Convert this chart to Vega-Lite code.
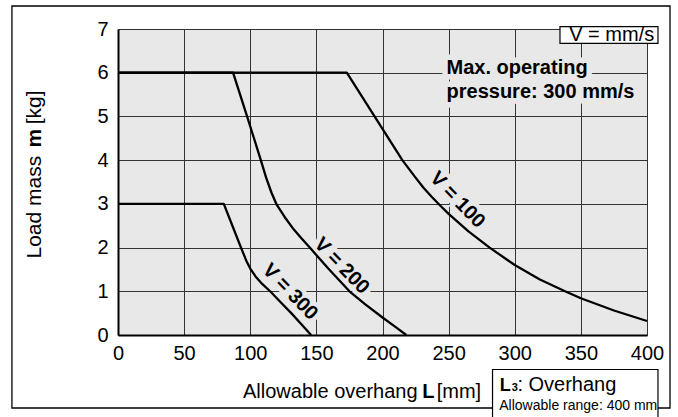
{
  "$schema": "https://vega.github.io/schema/vega-lite/v6.json",
  "width": 529,
  "height": 306,
  "autosize": "none",
  "padding": {"left": 118, "top": 29, "right": 31, "bottom": 82},
  "background": "white",
  "config": {
    "font": "Liberation Sans",
    "view": {"fill": "#e8e8e8", "stroke": null},
    "axis": {"grid": true, "gridColor": "#333333", "gridWidth": 1, "ticks": false, "tickSize": 0, "domainColor": "black", "domainWidth": 2,
      "labelFontSize": 20, "labelColor": "black", "labelFlush": false, "labelOverlap": false, "labelFont": "Liberation Sans"},
    "axisX": {"labelPadding": 8},
    "axisY": {"labelPadding": 10}
  },
  "datasets": {
    "curves": [
      {"V": "100", "L": 0, "m": 6}, {"V": "100", "L": 173, "m": 6}, {"V": "100", "L": 194, "m": 5}, {"V": "100", "L": 215, "m": 4},
      {"V": "100", "L": 225, "m": 3.6}, {"V": "100", "L": 231, "m": 3.37}, {"V": "100", "L": 237, "m": 3.17}, {"V": "100", "L": 243, "m": 2.98},
      {"V": "100", "L": 250, "m": 2.77}, {"V": "100", "L": 265, "m": 2.37}, {"V": "100", "L": 281, "m": 2}, {"V": "100", "L": 300, "m": 1.6},
      {"V": "100", "L": 319, "m": 1.27}, {"V": "100", "L": 338, "m": 1}, {"V": "100", "L": 350, "m": 0.84}, {"V": "100", "L": 375, "m": 0.56},
      {"V": "100", "L": 400, "m": 0.32},
      {"V": "200", "L": 0, "m": 6}, {"V": "200", "L": 87, "m": 6}, {"V": "200", "L": 97.6, "m": 5}, {"V": "200", "L": 108, "m": 4},
      {"V": "200", "L": 112, "m": 3.6}, {"V": "200", "L": 116, "m": 3.26}, {"V": "200", "L": 120, "m": 2.98}, {"V": "200", "L": 126, "m": 2.7},
      {"V": "200", "L": 132, "m": 2.45}, {"V": "200", "L": 138.5, "m": 2.22}, {"V": "200", "L": 145, "m": 2}, {"V": "200", "L": 159, "m": 1.52},
      {"V": "200", "L": 175, "m": 1}, {"V": "200", "L": 187, "m": 0.7}, {"V": "200", "L": 200, "m": 0.4}, {"V": "200", "L": 210, "m": 0.18},
      {"V": "200", "L": 218, "m": 0},
      {"V": "300", "L": 0, "m": 3}, {"V": "300", "L": 80, "m": 3}, {"V": "300", "L": 86.5, "m": 2.5}, {"V": "300", "L": 93, "m": 2},
      {"V": "300", "L": 97, "m": 1.7}, {"V": "300", "L": 100, "m": 1.52}, {"V": "300", "L": 104, "m": 1.34}, {"V": "300", "L": 108, "m": 1.2},
      {"V": "300", "L": 115, "m": 1}, {"V": "300", "L": 123, "m": 0.75}, {"V": "300", "L": 131, "m": 0.5}, {"V": "300", "L": 138.5, "m": 0.25},
      {"V": "300", "L": 146, "m": 0}
    ],
    "speedLabels": [
      {"text": "V = 300", "L": 130.1, "m": 0.99},
      {"text": "V = 200", "L": 169.1, "m": 1.58},
      {"text": "V = 100", "L": 256.6, "m": 3.09}
    ],
    "note": [
      {"text": "Max. operating", "L": 248.4, "m": 6.1},
      {"text": "pressure: 300 mm/s", "L": 248.4, "m": 5.566}
    ]
  },
  "layer": [
    {
      "data": {"values": [{"x1": -80.2, "x2": 417.4, "y1": 7.526, "y2": -1.67}]},
      "mark": {"type": "rect", "fill": "transparent", "stroke": "black", "strokeWidth": 1.3},
      "encoding": {
        "x": {"field": "x1", "type": "quantitative", "title": null, "scale": {"domain": [0, 400], "nice": false, "zero": false}},
        "x2": {"field": "x2"},
        "y": {"field": "y1", "type": "quantitative", "title": null, "scale": {"domain": [0, 7], "nice": false, "zero": false}},
        "y2": {"field": "y2"}
      }
    },
    {
      "data": {"name": "speedLabels"},
      "mark": {"type": "text", "fontSize": 20, "fontWeight": "bold", "angle": 46, "align": "center", "baseline": "middle", "fill": "#e8e8e8", "stroke": "#e8e8e8", "strokeWidth": 9},
      "encoding": {
        "x": {"field": "L", "type": "quantitative", "title": null, "scale": {"domain": [0, 400], "nice": false, "zero": false}},
        "y": {"field": "m", "type": "quantitative", "title": null, "scale": {"domain": [0, 7], "nice": false, "zero": false}},
        "text": {"field": "text"}
      }
    },
    {
      "data": {"name": "note"},
      "mark": {"type": "text", "fontSize": 20, "fontWeight": "bold", "align": "left", "baseline": "middle", "fill": "#e8e8e8", "stroke": "#e8e8e8", "strokeWidth": 11},
      "encoding": {
        "x": {"field": "L", "type": "quantitative", "title": null, "scale": {"domain": [0, 400], "nice": false, "zero": false}},
        "y": {"field": "m", "type": "quantitative", "title": null, "scale": {"domain": [0, 7], "nice": false, "zero": false}},
        "text": {"field": "text"}
      }
    },
    {
      "data": {"name": "curves"},
      "mark": {"type": "line", "color": "black", "strokeWidth": 2.3, "strokeJoin": "round"},
      "encoding": {
        "x": {"field": "L", "type": "quantitative", "title": null, "scale": {"domain": [0, 400], "nice": false, "zero": false},
          "axis": {"values": [0, 50, 100, 150, 200, 250, 300, 350, 400], "title": null}},
        "y": {"field": "m", "type": "quantitative", "title": null, "scale": {"domain": [0, 7], "nice": false, "zero": false},
          "axis": {"values": [0, 1, 2, 3, 4, 5, 6, 7], "title": null}},
        "detail": {"field": "V", "type": "nominal"}
      }
    },
    {
      "data": {"name": "speedLabels"},
      "mark": {"type": "text", "fontSize": 20, "fontWeight": "bold", "angle": 46, "align": "center", "baseline": "middle", "fill": "black"},
      "encoding": {
        "x": {"field": "L", "type": "quantitative", "title": null, "scale": {"domain": [0, 400], "nice": false, "zero": false}},
        "y": {"field": "m", "type": "quantitative", "title": null, "scale": {"domain": [0, 7], "nice": false, "zero": false}},
        "text": {"field": "text"}
      }
    },
    {
      "data": {"name": "note"},
      "mark": {"type": "text", "fontSize": 20, "fontWeight": "bold", "align": "left", "baseline": "middle", "fill": "black"},
      "encoding": {
        "x": {"field": "L", "type": "quantitative", "title": null, "scale": {"domain": [0, 400], "nice": false, "zero": false}},
        "y": {"field": "m", "type": "quantitative", "title": null, "scale": {"domain": [0, 7], "nice": false, "zero": false}},
        "text": {"field": "text"}
      }
    },
    {
      "data": {"values": [{"x1": 334.2, "x2": 408.3, "y1": 7.053, "y2": 6.673}, {"x1": 283.2, "x2": 408.3, "y1": -0.789, "y2": -1.944}]},
      "mark": {"type": "rect", "fill": "white", "stroke": "black", "strokeWidth": 1.2},
      "encoding": {
        "x": {"field": "x1", "type": "quantitative", "title": null, "scale": {"domain": [0, 400], "nice": false, "zero": false}},
        "x2": {"field": "x2"},
        "y": {"field": "y1", "type": "quantitative", "title": null, "scale": {"domain": [0, 7], "nice": false, "zero": false}},
        "y2": {"field": "y2"}
      }
    },
    {
      "data": {"values": [{"text": "V = mm/s", "L": 373.3, "m": 6.874}]},
      "mark": {"type": "text", "fontSize": 20, "align": "center", "baseline": "middle", "fill": "black"},
      "encoding": {
        "x": {"field": "L", "type": "quantitative", "title": null, "scale": {"domain": [0, 400], "nice": false, "zero": false}},
        "y": {"field": "m", "type": "quantitative", "title": null, "scale": {"domain": [0, 7], "nice": false, "zero": false}},
        "text": {"field": "text"}
      }
    },
    {
      "data": {"values": [{"text": "L", "L": 288.6, "m": -1.274}]},
      "mark": {"type": "text", "fontSize": 18, "fontWeight": "bold", "align": "left", "baseline": "alphabetic", "fill": "black"},
      "encoding": {
        "x": {"field": "L", "type": "quantitative", "title": null, "scale": {"domain": [0, 400], "nice": false, "zero": false}},
        "y": {"field": "m", "type": "quantitative", "title": null, "scale": {"domain": [0, 7], "nice": false, "zero": false}},
        "text": {"field": "text"}
      }
    },
    {
      "data": {"values": [{"text": "3", "L": 297.8, "m": -1.274}]},
      "mark": {"type": "text", "fontSize": 11, "fontWeight": "bold", "align": "left", "baseline": "alphabetic", "fill": "black"},
      "encoding": {
        "x": {"field": "L", "type": "quantitative", "title": null, "scale": {"domain": [0, 400], "nice": false, "zero": false}},
        "y": {"field": "m", "type": "quantitative", "title": null, "scale": {"domain": [0, 7], "nice": false, "zero": false}},
        "text": {"field": "text"}
      }
    },
    {
      "data": {"values": [{"text": ": Overhang", "L": 302.0, "m": -1.274}]},
      "mark": {"type": "text", "fontSize": 20, "align": "left", "baseline": "alphabetic", "fill": "black"},
      "encoding": {
        "x": {"field": "L", "type": "quantitative", "title": null, "scale": {"domain": [0, 400], "nice": false, "zero": false}},
        "y": {"field": "m", "type": "quantitative", "title": null, "scale": {"domain": [0, 7], "nice": false, "zero": false}},
        "text": {"field": "text"}
      }
    },
    {
      "data": {"values": [{"text": "Allowable range: 400 mm", "L": 288.3, "m": -1.716}]},
      "mark": {"type": "text", "fontSize": 14, "align": "left", "baseline": "alphabetic", "fill": "black"},
      "encoding": {
        "x": {"field": "L", "type": "quantitative", "title": null, "scale": {"domain": [0, 400], "nice": false, "zero": false}},
        "y": {"field": "m", "type": "quantitative", "title": null, "scale": {"domain": [0, 7], "nice": false, "zero": false}},
        "text": {"field": "text"}
      }
    },
    {
      "data": {"values": [{"text": "Allowable overhang", "L": 226.5, "m": -1.434}]},
      "mark": {"type": "text", "fontSize": 20, "align": "right", "baseline": "alphabetic", "fill": "black"},
      "encoding": {
        "x": {"field": "L", "type": "quantitative", "title": null, "scale": {"domain": [0, 400], "nice": false, "zero": false}},
        "y": {"field": "m", "type": "quantitative", "title": null, "scale": {"domain": [0, 7], "nice": false, "zero": false}},
        "text": {"field": "text"}
      }
    },
    {
      "data": {"values": [{"text": "L", "L": 230.0, "m": -1.434}]},
      "mark": {"type": "text", "fontSize": 20, "fontWeight": "bold", "align": "left", "baseline": "alphabetic", "fill": "black"},
      "encoding": {
        "x": {"field": "L", "type": "quantitative", "title": null, "scale": {"domain": [0, 400], "nice": false, "zero": false}},
        "y": {"field": "m", "type": "quantitative", "title": null, "scale": {"domain": [0, 7], "nice": false, "zero": false}},
        "text": {"field": "text"}
      }
    },
    {
      "data": {"values": [{"text": "[mm]", "L": 241.0, "m": -1.434}]},
      "mark": {"type": "text", "fontSize": 20, "align": "left", "baseline": "alphabetic", "fill": "black"},
      "encoding": {
        "x": {"field": "L", "type": "quantitative", "title": null, "scale": {"domain": [0, 400], "nice": false, "zero": false}},
        "y": {"field": "m", "type": "quantitative", "title": null, "scale": {"domain": [0, 7], "nice": false, "zero": false}},
        "text": {"field": "text"}
      }
    },
    {
      "data": {"values": [{"text": "Load mass", "L": -58.4, "m": 1.75}, {"text": "[kg]", "L": -58.4, "m": 4.82}]},
      "mark": {"type": "text", "fontSize": 21, "angle": 270, "align": "left", "baseline": "alphabetic", "fill": "black"},
      "encoding": {
        "x": {"field": "L", "type": "quantitative", "title": null, "scale": {"domain": [0, 400], "nice": false, "zero": false}},
        "y": {"field": "m", "type": "quantitative", "title": null, "scale": {"domain": [0, 7], "nice": false, "zero": false}},
        "text": {"field": "text"}
      }
    },
    {
      "data": {"values": [{"text": "m", "L": -58.4, "m": 4.289}]},
      "mark": {"type": "text", "fontSize": 21, "fontWeight": "bold", "angle": 270, "align": "left", "baseline": "alphabetic", "fill": "black"},
      "encoding": {
        "x": {"field": "L", "type": "quantitative", "title": null, "scale": {"domain": [0, 400], "nice": false, "zero": false}},
        "y": {"field": "m", "type": "quantitative", "title": null, "scale": {"domain": [0, 7], "nice": false, "zero": false}},
        "text": {"field": "text"}
      }
    }
  ]
}
